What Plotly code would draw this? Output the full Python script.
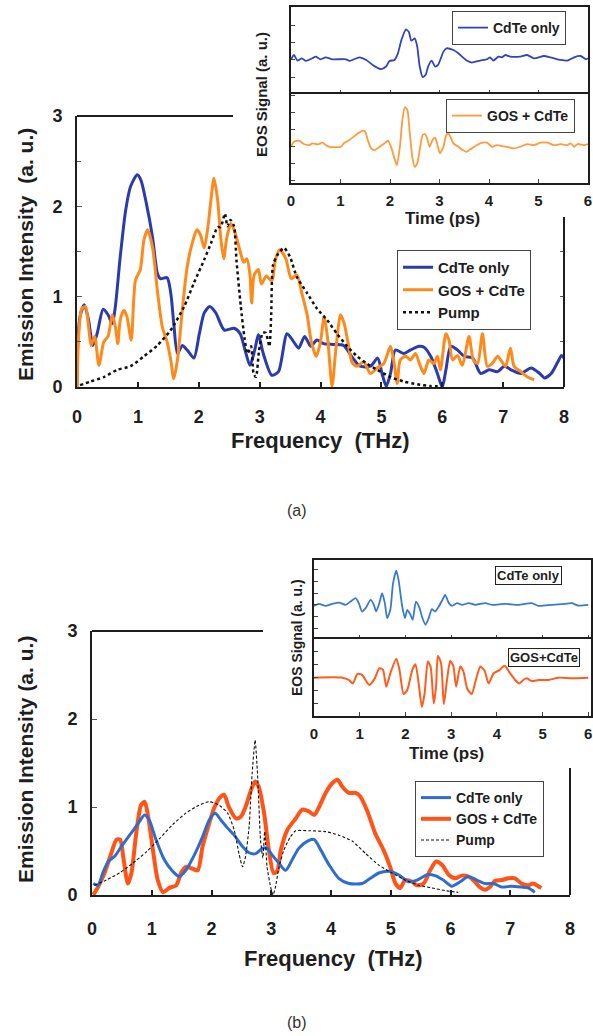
import plotly.graph_objects as go

# ---------------- DATA ----------------
# Panel (a) main: emission spectra (frequency THz, intensity a.u.)
a_cdte_f = [0, 0.01, 0.05, 0.12, 0.19, 0.26, 0.33, 0.43, 0.51, 0.58,
            0.63, 0.71, 0.80, 0.88, 0.99, 1.05, 1.14, 1.24, 1.32, 1.37,
            1.48, 1.54, 1.59, 1.65, 1.73, 1.81, 1.92, 2.01, 2.09, 2.18,
            2.28, 2.42, 2.58, 2.68, 2.76, 2.84, 2.92, 2.98, 3.06, 3.20,
            3.31, 3.45, 3.56, 3.64, 3.74, 3.84, 3.94, 4.05, 4.21, 4.38,
            4.52, 4.65, 4.82, 4.94, 5.01, 5.08, 5.15, 5.23, 5.37, 5.48,
            5.62, 5.70, 5.81, 5.92, 6.00, 6.06, 6.14, 6.25, 6.36, 6.50,
            6.63, 6.77, 6.91, 7.02, 7.13, 7.29, 7.46, 7.60, 7.68, 7.79,
            7.90, 7.96, 8.00]
a_cdte_i = [0, 0.45, 0.78, 0.91, 0.74, 0.46, 0.59, 0.86, 0.80, 0.70,
            0.89, 1.44, 1.96, 2.22, 2.35, 2.29, 2.03, 1.66, 1.26, 1.20,
            1.21, 1.04, 0.70, 0.37, 0.46, 0.41, 0.32, 0.59, 0.82, 0.89,
            0.82, 0.63, 0.65, 0.59, 0.41, 0.24, 0.41, 0.58, 0.37, 0.13,
            0.17, 0.59, 0.50, 0.43, 0.56, 0.45, 0.52, 0.48, 0.47, 0.46,
            0.33, 0.23, 0.23, 0.32, 0.15, 0.01, 0.15, 0.41, 0.37, 0.41,
            0.45, 0.44, 0.34, 0.15, 0.00, 0.19, 0.45, 0.41, 0.34, 0.32,
            0.15, 0.19, 0.17, 0.23, 0.19, 0.15, 0.21, 0.15, 0.10, 0.15,
            0.28, 0.35, 0.32]

a_gos_f = [0, 0.03, 0.08, 0.14, 0.19, 0.23, 0.29, 0.36, 0.44, 0.51,
           0.58, 0.63, 0.67, 0.71, 0.77, 0.82, 0.89, 0.96, 1.04, 1.10,
           1.16, 1.24, 1.32, 1.40, 1.48, 1.54, 1.59, 1.65, 1.73, 1.81,
           1.90, 1.97, 2.03, 2.09, 2.15, 2.20, 2.25, 2.31, 2.36, 2.41,
           2.46, 2.53, 2.60, 2.68, 2.74, 2.79, 2.84, 2.87, 2.91, 2.98,
           3.03, 3.11, 3.20, 3.26, 3.33, 3.43, 3.52, 3.61, 3.70, 3.78,
           3.85, 3.93, 4.00, 4.06, 4.12, 4.19, 4.25, 4.33, 4.39, 4.45,
           4.52, 4.60, 4.71, 4.82, 4.93, 5.04, 5.15, 5.21, 5.26, 5.31,
           5.40, 5.48, 5.56, 5.64, 5.70, 5.78, 5.86, 5.92, 5.97, 6.06,
           6.11, 6.17, 6.25, 6.33, 6.44, 6.51, 6.58, 6.66, 6.74, 6.82,
           6.91, 6.96, 7.04, 7.12, 7.18, 7.29, 7.40, 7.51]
a_gos_i = [0, 0.59, 0.87, 0.89, 0.67, 0.46, 0.56, 0.24, 0.50, 0.56,
           0.80, 0.67, 0.48, 0.74, 0.85, 0.78, 0.52, 1.18, 1.30, 1.63,
           1.74, 1.55, 1.07, 0.67, 0.50, 0.30, 0.09, 0.30, 0.85, 1.33,
           1.61, 1.74, 1.68, 1.54, 1.77, 2.07, 2.31, 2.07, 1.66, 1.42,
           1.65, 1.81, 1.70, 1.50, 1.38, 1.42, 1.25, 0.93, 1.24, 1.30,
           1.14, 1.23, 1.17, 1.41, 1.52, 1.42, 1.20, 1.24, 1.02, 0.80,
           0.50, 0.34, 0.50, 0.78, 0.52, 0.01, 0.40, 0.80, 0.70, 0.50,
           0.27, 0.23, 0.28, 0.15, 0.21, 0.26, 0.45, 0.26, 0.04, 0.30,
           0.34, 0.30, 0.37, 0.23, 0.15, 0.30, 0.26, 0.34, 0.19, 0.59,
           0.52, 0.30, 0.35, 0.24, 0.56, 0.30, 0.26, 0.59, 0.23, 0.26,
           0.34, 0.30, 0.23, 0.43, 0.23, 0.17, 0.11, 0.08]

a_pump_f = [0.05, 0.22, 0.44, 0.66, 0.88, 1.10, 1.32, 1.54, 1.76, 1.92,
            2.09, 2.20, 2.31, 2.36, 2.43, 2.47, 2.52, 2.58, 2.62, 2.69,
            2.75, 2.80, 2.86, 2.90, 2.94, 2.99, 3.05, 3.10, 3.16, 3.19,
            3.22, 3.30, 3.40, 3.50, 3.61, 3.78, 3.94, 4.11, 4.27, 4.44,
            4.60, 4.76, 4.93, 5.15, 5.37, 5.59, 5.81, 6.00]
a_pump_i = [0.02, 0.06, 0.11, 0.19, 0.23, 0.34, 0.46, 0.63, 0.89, 1.15,
            1.41, 1.59, 1.77, 1.77, 1.92, 1.78, 1.85, 1.78, 1.40, 0.90,
            0.55, 0.37, 0.45, 0.15, 0.11, 0.40, 0.60, 0.60, 0.45, 0.80,
            1.35, 1.47, 1.54, 1.44, 1.22, 1.04, 0.87, 0.74, 0.59, 0.45,
            0.34, 0.26, 0.19, 0.11, 0.06, 0.03, 0.01, 0.01]

# Panel (a) inset: EOS time signals (time ps, signal a.u.)
a_eos_cdte_t = [0.00, 0.06, 0.13, 0.22, 0.30, 0.43, 0.50, 0.60, 0.70, 0.84,
                1.11, 1.18, 1.38, 1.52, 1.65, 1.82, 1.92, 1.99, 2.09, 2.16,
                2.23, 2.32, 2.38, 2.43, 2.50, 2.55, 2.60, 2.66, 2.72, 2.77,
                2.84, 2.91, 2.97, 3.08, 3.14, 3.28, 3.38, 3.55, 3.65, 3.82,
                3.96, 4.02, 4.09, 4.19, 4.26, 4.33, 4.43, 4.63, 4.77, 4.91,
                5.11, 5.24, 5.45, 5.58, 5.72, 5.85, 5.96, 6.00]
a_eos_cdte_v = [-0.10, 0.33, -0.23, 0.00, -0.27, 0.00, 0.17, -0.10, 0.10, -0.10,
                -0.10, -0.27, 0.10, -0.17, -0.67, -1.10, -0.83, -0.27, -0.17, 0.50,
                1.83, 2.90, 2.67, 1.77, 2.00, 1.17, -0.83, -1.90, -1.67, -0.83,
                -0.23, -0.83, -0.67, 0.67, 1.00, 0.83, 0.50, -0.23, -0.43, -0.23,
                -0.10, 0.10, -0.23, 0.17, 0.10, 0.33, 0.17, 0.17, 0.33, 0.00,
                0.23, 0.10, -0.17, -0.23, 0.10, 0.23, -0.10, 0.00]

a_eos_gos_t = [0.00, 0.06, 0.16, 0.26, 0.37, 0.43, 0.54, 0.64, 0.70, 0.77,
               1.01, 1.08, 1.18, 1.31, 1.45, 1.50, 1.55, 1.62, 1.69, 1.79,
               1.89, 1.96, 2.03, 2.09, 2.14, 2.20, 2.25, 2.30, 2.35, 2.40,
               2.45, 2.50, 2.55, 2.60, 2.66, 2.71, 2.76, 2.80, 2.86, 2.91,
               2.95, 3.01, 3.08, 3.13, 3.18, 3.22, 3.28, 3.38, 3.45, 3.55,
               3.65, 3.82, 3.96, 4.06, 4.16, 4.26, 4.36, 4.50, 4.63, 4.77,
               4.91, 5.04, 5.18, 5.31, 5.45, 5.58, 5.65, 5.72, 5.79, 5.92,
               6.00]
a_eos_gos_v = [-0.17, 0.33, 0.43, 0.10, 0.00, 0.17, 0.07, 0.23, 0.00, -0.17,
               -0.17, 0.23, 0.50, 1.00, 1.43, 1.33, 0.50, -0.33, -0.50, -0.17,
               0.17, 0.43, -0.33, -1.33, -2.00, -0.17, 2.50, 3.77, 3.50, 1.17,
               -1.17, -2.17, -1.83, -0.50, 1.00, 1.10, 0.50, -0.17, 0.50, 0.73,
               0.17, -0.83, -0.17, 0.90, 1.17, 0.83, 0.17, -0.17, -0.43, -0.67,
               -0.33, 0.17, 0.23, -0.17, 0.00, -0.10, -0.17, -0.33, -0.17, 0.10,
               0.00, 0.23, 0.23, 0.00, 0.10, 0.00, 0.17, -0.17, 0.10, 0.00,
               0.10]

# Panel (b) main
b_gos_f = [0.02, 0.10, 0.21, 0.32, 0.41, 0.47, 0.53, 0.60, 0.66, 0.74,
           0.82, 0.88, 0.93, 1.02, 1.10, 1.19, 1.29, 1.41, 1.49, 1.57,
           1.68, 1.77, 1.85, 1.96, 2.04, 2.13, 2.21, 2.29, 2.41, 2.49,
           2.57, 2.66, 2.73, 2.79, 2.88, 2.96, 3.04, 3.10, 3.16, 3.27,
           3.41, 3.52, 3.63, 3.72, 3.80, 3.91, 4.02, 4.11, 4.19, 4.30,
           4.41, 4.49, 4.61, 4.74, 4.88, 4.99, 5.08, 5.16, 5.24, 5.36,
           5.44, 5.55, 5.66, 5.76, 5.86, 5.97, 6.08, 6.19, 6.30, 6.41,
           6.49, 6.58, 6.66, 6.74, 6.86, 6.97, 7.08, 7.19, 7.30, 7.38,
           7.47, 7.52]
b_gos_i = [0.00, 0.09, 0.25, 0.47, 0.63, 0.63, 0.40, 0.13, 0.25, 0.70,
           1.02, 1.06, 0.93, 0.51, 0.17, 0.03, 0.08, 0.11, 0.25, 0.32,
           0.30, 0.28, 0.55, 0.81, 0.98, 1.10, 1.14, 1.00, 0.87, 0.89,
           1.00, 1.19, 1.29, 1.23, 0.93, 0.51, 0.25, 0.27, 0.51, 0.74,
           0.87, 0.97, 0.95, 0.91, 1.00, 1.16, 1.27, 1.31, 1.23, 1.16,
           1.16, 1.12, 0.95, 0.70, 0.51, 0.32, 0.13, 0.08, 0.17, 0.15,
           0.11, 0.13, 0.28, 0.38, 0.34, 0.23, 0.19, 0.22, 0.21, 0.15,
           0.09, 0.06, 0.09, 0.16, 0.17, 0.19, 0.19, 0.13, 0.11, 0.13,
           0.10, 0.08]

b_cdte_f = [0.02, 0.10, 0.18, 0.27, 0.38, 0.49, 0.63, 0.77, 0.88, 0.96,
            1.07, 1.21, 1.35, 1.46, 1.57, 1.71, 1.85, 1.96, 2.06, 2.16,
            2.27, 2.38, 2.52, 2.63, 2.74, 2.85, 2.93, 3.02, 3.13, 3.24,
            3.35, 3.46, 3.60, 3.72, 3.83, 3.97, 4.13, 4.30, 4.52, 4.66,
            4.80, 4.97, 5.13, 5.30, 5.44, 5.61, 5.74, 5.88, 6.02, 6.16,
            6.30, 6.44, 6.58, 6.72, 6.86, 7.02, 7.19, 7.30, 7.41]
b_cdte_i = [0.13, 0.11, 0.25, 0.38, 0.44, 0.55, 0.68, 0.81, 0.91, 0.85,
            0.63, 0.40, 0.27, 0.21, 0.28, 0.45, 0.66, 0.85, 0.93, 0.85,
            0.76, 0.68, 0.55, 0.48, 0.47, 0.53, 0.53, 0.45, 0.36, 0.28,
            0.40, 0.53, 0.61, 0.63, 0.51, 0.34, 0.19, 0.13, 0.13, 0.19,
            0.25, 0.27, 0.23, 0.15, 0.17, 0.23, 0.22, 0.17, 0.10, 0.15,
            0.21, 0.17, 0.13, 0.13, 0.09, 0.10, 0.09, 0.08, 0.03]

b_pump_f = [0.04, 0.24, 0.46, 0.68, 0.91, 1.13, 1.35, 1.57, 1.79, 1.96,
            2.13, 2.27, 2.38, 2.46, 2.52, 2.57, 2.63, 2.68, 2.73, 2.77,
            2.82, 2.86, 2.89, 2.93, 2.99, 3.03, 3.07, 3.13, 3.21, 3.32,
            3.41, 3.63, 3.91, 4.13, 4.36, 4.58, 4.80, 5.02, 5.24, 5.47,
            5.69, 5.91, 6.13]
b_pump_i = [0.11, 0.17, 0.25, 0.36, 0.49, 0.64, 0.80, 0.93, 1.02, 1.06,
            1.02, 0.93, 0.74, 0.47, 0.32, 0.44, 0.78, 1.38, 1.76, 1.38,
            0.63, 0.42, 0.72, 0.32, 0.09, 0.00, 0.09, 0.32, 0.51, 0.66,
            0.73, 0.73, 0.72, 0.68, 0.61, 0.47, 0.34, 0.25, 0.17, 0.11,
            0.08, 0.05, 0.03]

# Panel (b) inset
b_eos_cdte_t = [0.00, 0.11, 0.25, 0.40, 0.55, 0.69, 0.80, 0.91, 0.98, 1.05,
                1.13, 1.24, 1.31, 1.36, 1.43, 1.49, 1.55, 1.60, 1.67, 1.73,
                1.80, 1.85, 1.93, 1.99, 2.04, 2.11, 2.16, 2.23, 2.31, 2.36,
                2.44, 2.51, 2.58, 2.65, 2.73, 2.81, 2.87, 2.95, 3.02, 3.13,
                3.24, 3.38, 3.53, 3.75, 3.89, 4.18, 4.47, 4.76, 4.91, 5.20,
                5.49, 5.64, 5.78, 6.00]
b_eos_cdte_v = [-0.10, 0.10, -0.10, 0.10, 0.23, 0.00, 0.33, 0.67, 0.17, -0.67,
                -0.33, 0.50, 0.00, -0.67, 0.17, 1.17, 0.17, -1.33, -0.50, 2.17,
                3.43, 2.50, -0.17, -1.33, -0.50, -1.00, -1.50, 0.33, -0.33, -1.17,
                -2.00, -1.33, -0.43, -0.67, -0.17, 0.50, 1.00, 0.17, -0.10, 0.17,
                0.00, 0.17, 0.00, 0.17, 0.00, 0.10, 0.00, 0.17, -0.10, 0.00,
                0.10, 0.17, -0.07, 0.00]

b_eos_gos_t = [0.00, 0.62, 0.76, 0.85, 0.95, 1.05, 1.21, 1.33, 1.43, 1.51,
               1.58, 1.67, 1.80, 1.87, 1.96, 2.04, 2.15, 2.22, 2.29, 2.36,
               2.42, 2.49, 2.55, 2.62, 2.67, 2.71, 2.78, 2.84, 2.91, 2.98,
               3.05, 3.11, 3.20, 3.27, 3.35, 3.45, 3.54, 3.64, 3.73, 3.82,
               3.93, 4.04, 4.17, 4.29, 4.40, 4.49, 4.58, 4.65, 4.76, 4.91,
               5.13, 5.35, 5.64, 6.00]
b_eos_gos_v = [0.00, 0.00, -0.23, -0.57, 0.37, 0.27, -0.73, -0.07, 0.93, 0.77,
               -0.90, 0.43, 1.87, 0.77, -1.63, -1.23, 0.77, 1.33, -0.57, -2.90,
               -1.57, 1.60, 1.10, -2.57, -0.90, 2.17, 1.43, -2.63, -0.23, 1.67,
               1.10, -0.90, 1.10, 0.60, -1.07, -1.63, -0.23, 1.10, 0.70, -0.57,
               0.43, 0.70, 1.17, 0.43, -0.23, -0.57, -0.23, -0.07, -0.33, -0.23,
               -0.23, 0.00, -0.07, 0.00]

# ---------------- LAYOUT HELPERS ----------------
W, H = 593, 1036
FONT = "Liberation Sans, Arial, sans-serif"
INK = "#1e1e1e"


def px(x):
    return x / W


def py(y):
    return 1 - y / H


fig = go.Figure()

# ---- panel (a) main ----
fig.add_trace(go.Scatter(x=a_cdte_f, y=a_cdte_i, name="CdTe only", mode="lines",
                         line=dict(color="#2B3BAE", width=3, shape="spline", smoothing=0.7),
                         xaxis="x", yaxis="y", legend="legend", legendrank=1))
fig.add_trace(go.Scatter(x=a_gos_f, y=a_gos_i, name="GOS + CdTe", mode="lines",
                         line=dict(color="#FF8A1C", width=3, shape="spline", smoothing=0.7),
                         xaxis="x", yaxis="y", legend="legend", legendrank=2))
fig.add_trace(go.Scatter(x=a_pump_f, y=a_pump_i, name="Pump", mode="lines",
                         line=dict(color="#111111", width=2.5, dash="dot", shape="spline", smoothing=0.6),
                         xaxis="x", yaxis="y", legend="legend", legendrank=3))
# carrier for right-side ticks of panel (a)
fig.add_trace(go.Scatter(x=[None], y=[None], xaxis="x", yaxis="y7", showlegend=False, hoverinfo="skip"))

# ---- panel (a) inset ----
fig.add_trace(go.Scatter(x=a_eos_cdte_t, y=a_eos_cdte_v, name="CdTe only", mode="lines",
                         line=dict(color="#3343B8", width=1.8, shape="spline", smoothing=0.6),
                         xaxis="x2", yaxis="y2", legend="legend2"))
fig.add_trace(go.Scatter(x=a_eos_gos_t, y=a_eos_gos_v, name="GOS + CdTe", mode="lines",
                         line=dict(color="#FF9B3D", width=1.8, shape="spline", smoothing=0.6),
                         xaxis="x3", yaxis="y3", legend="legend3"))

# ---- panel (b) main ----
fig.add_trace(go.Scatter(x=b_gos_f, y=b_gos_i, name="GOS + CdTe", mode="lines",
                         line=dict(color="#FF5416", width=4, shape="spline", smoothing=0.7),
                         xaxis="x4", yaxis="y4", legend="legend4", legendrank=2))
fig.add_trace(go.Scatter(x=b_cdte_f, y=b_cdte_i, name="CdTe only", mode="lines",
                         line=dict(color="#2E6CD2", width=3, shape="spline", smoothing=0.7),
                         xaxis="x4", yaxis="y4", legend="legend4", legendrank=1))
fig.add_trace(go.Scatter(x=b_pump_f, y=b_pump_i, name="Pump", mode="lines",
                         line=dict(color="#111111", width=1.1, dash="3px,2px", shape="spline", smoothing=0.5),
                         xaxis="x4", yaxis="y4", legend="legend4", legendrank=3))

# ---- panel (b) inset ----
fig.add_trace(go.Scatter(x=b_eos_cdte_t, y=b_eos_cdte_v, name="CdTe only", mode="lines",
                         line=dict(color="#3A7ACC", width=1.8, shape="spline", smoothing=0.6),
                         xaxis="x5", yaxis="y5", showlegend=False))
fig.add_trace(go.Scatter(x=b_eos_gos_t, y=b_eos_gos_v, name="GOS+CdTe", mode="lines",
                         line=dict(color="#FF5C1E", width=2, shape="spline", smoothing=0.6),
                         xaxis="x6", yaxis="y6", showlegend=False))


def main_x(dom, anchor, standoff):
    return dict(domain=dom, anchor=anchor, range=[0, 8], tick0=0, dtick=1,
                showline=True, linecolor=INK, linewidth=2, mirror=False,
                ticks="inside", ticklen=5, tickwidth=1.5, tickcolor=INK,
                ticklabelstandoff=standoff, automargin=False,
                tickfont=dict(family=FONT, size=18, color=INK, weight="bold"),
                showgrid=False, zeroline=False)


def main_y(dom, anchor, minor):
    d = dict(domain=dom, anchor=anchor, range=[0, 3], tick0=0, dtick=1,
             showline=True, linecolor=INK, linewidth=2, mirror=False,
             ticks="inside", ticklen=5, tickwidth=1.2, tickcolor="#555",
             ticklabelstandoff=9, automargin=False,
             tickfont=dict(family=FONT, size=18, color=INK, weight="bold"),
             showgrid=False, zeroline=False)
    if minor:
        d["minor"] = dict(dtick=0.5, ticks="inside", ticklen=4, tickcolor="#555", tickwidth=1.2)
    return d


def inset_x(dom, anchor, labels, rng):
    return dict(domain=dom, anchor=anchor, range=rng, tick0=0, dtick=1,
                showline=True, linecolor=INK, linewidth=1.5, mirror=True,
                ticks="inside", ticklen=4, tickwidth=1, tickcolor="#444",
                showticklabels=labels, ticklabelstandoff=3, automargin=False,
                tickfont=dict(family=FONT, size=15, color=INK, weight="bold"),
                showgrid=False, zeroline=False)


def inset_y(dom, anchor, rng, t0, dt):
    return dict(domain=dom, anchor=anchor, range=rng, tick0=t0, dtick=dt,
                showline=True, linecolor=INK, linewidth=1.5, mirror=True,
                ticks="inside", ticklen=4, tickwidth=1, tickcolor="#444",
                showticklabels=False, showgrid=False, zeroline=False, automargin=False)


legend_common = dict(bgcolor="white", bordercolor="#444", borderwidth=1,
                     xanchor="left", yanchor="top", itemwidth=30,
                     font=dict(family=FONT, color=INK, weight="bold"))

fig.update_layout(
    width=W, height=H, autosize=False,
    margin=dict(l=0, r=0, t=0, b=0, pad=0, autoexpand=False),
    paper_bgcolor="white", plot_bgcolor="white",
    font=dict(family=FONT, color=INK),
    xaxis=main_x([px(77), px(564)], "y", 12),
    yaxis=main_y([py(387), py(116)], "x", True),
    yaxis7=dict(overlaying="y", anchor="x", side="right", range=[0, 3],
                tickvals=[0.5, 1, 1.5], ticks="inside", ticklen=4, tickcolor="#555",
                showticklabels=False, showline=False, showgrid=False, zeroline=False,
                automargin=False),
    xaxis2=inset_x([px(291), px(588)], "y2", False, [0, 6]),
    yaxis2=inset_y([py(94), py(7)], "x2", [-3.6, 5.17], -0.17, 1.75),
    xaxis3=inset_x([px(291), px(588)], "y3", True, [0, 6]),
    yaxis3=inset_y([py(183), py(94)], "x3", [-3.77, 5.07], -0.17, 1.7),
    xaxis4=main_x([px(92), px(570)], "y4", 16),
    yaxis4=main_y([py(895), py(631)], "x4", False),
    xaxis5=inset_x([px(314), px(591)], "y5", False, [0, 6.06]),
    yaxis5=inset_y([py(639), py(560)], "x5", [-3.43, 4.5], 0, 1.17),
    xaxis6=inset_x([px(314), px(591)], "y6", True, [0, 6.06]),
    yaxis6=inset_y([py(716), py(639)], "x6", [-3.8, 3.83], 0, 1.3),
    legend=dict(legend_common, x=px(397), y=py(250), font_size=15),
    legend2=dict(legend_common, x=px(452), y=py(11), font_size=14),
    legend3=dict(legend_common, x=px(446), y=py(99), font_size=14),
    legend4=dict(legend_common, x=px(415), y=py(781), font_size=14),
    showlegend=True,
)

# partial frame lines (top and right edges not covered by the insets)
frame = dict(type="line", line=dict(color=INK, width=2), layer="above")
fig.add_shape(frame, xref="x domain", yref="y domain", x0=0, x1=(233 - 77) / (564 - 77), y0=1, y1=1)
fig.add_shape(frame, xref="x domain", yref="y domain", x0=1, x1=1, y0=0, y1=(387 - 217) / (387 - 116))
fig.add_shape(frame, xref="x4 domain", yref="y4 domain", x0=0, x1=(263 - 92) / (570 - 92), y0=1, y1=1)
fig.add_shape(frame, xref="x4 domain", yref="y4 domain", x0=1, x1=1, y0=0, y1=(895 - 768) / (895 - 631))


def label(text, x, y, size, angle=0, bold=True, color=INK, **kw):
    fig.add_annotation(text=text, x=px(x), y=py(y), xref="paper", yref="paper",
                       showarrow=False, textangle=angle, xanchor="center", yanchor="middle",
                       font=dict(family=FONT, size=size, color=color,
                                 weight="bold" if bold else "normal"), **kw)


label("Frequency  (THz)", 320, 440, 22)
label("Emission Intensity  (a. u.)", 25, 255, 21, angle=-90)
label("Time (ps)", 442, 218, 17)
label("EOS Signal (a. u.)", 262, 95, 15, angle=-90)
label("(a)", 297, 510, 16, bold=False, color="#333")

label("Frequency  (THz)", 333, 958, 22)
label("Emission Intensity (a. u.)", 25, 760, 21, angle=-90)
label("Time (ps)", 446, 753, 17)
label("EOS Signal (a. u.)", 297, 638, 14, angle=-90)
label("(b)", 297, 1022, 16, bold=False, color="#333")
label("CdTe only", 528, 575, 13, bordercolor="#222", borderwidth=1, borderpad=1, bgcolor="white")
label("GOS+CdTe", 544, 657, 13, bordercolor="#222", borderwidth=1, borderpad=1, bgcolor="white")

# remove the browser's default page margin so the figure sits at the window origin
fig.write_html("out.html", config={"displayModeBar": False},
               post_script="document.body.style.margin='0px';document.body.style.overflow='hidden';")
